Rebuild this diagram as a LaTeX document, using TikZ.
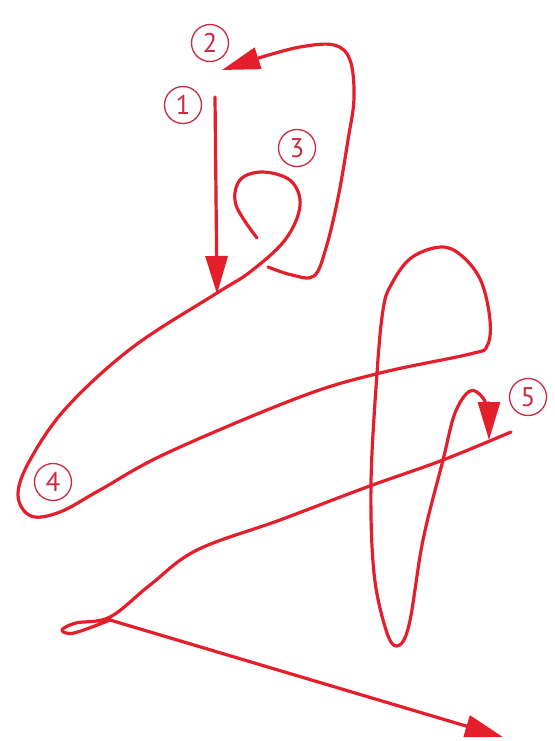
\documentclass[tikz,border=0pt]{standalone}
\usepackage{fontspec}
\setsansfont{PT Sans}
\usetikzlibrary{arrows.meta}
\definecolor{inkred}{RGB}{228,30,42}
\definecolor{numred}{RGB}{204,40,62}

\begin{document}
\begin{tikzpicture}[x=1pt, y=-1pt,
    stroke/.style={inkred, line width=3.2pt, line cap=round, line join=round},
    tip/.style={-{Triangle[length=38pt,width=22pt]}},
    num/.style={circle, draw=numred, line width=1.3pt, text=numred, minimum size=37pt,
        inner sep=0pt, font=\sffamily\fontsize{27}{27}\selectfont}]
    \useasboundingbox (0,0) rectangle (554,741);
    % stroke 1
    \draw[stroke, tip] (215,97) -- (217,294);
    % stroke 2
    \draw[stroke, tip] plot[smooth, tension=0.6] coordinates {(268,267) (292,275) (314,276) (326,248)
        (338,198) (348,140) (354,98) (350,60) (334,45) (300,47) (262,57)} -- (222,70);
    % stroke 3 to 5
    \draw[stroke, tip] plot[smooth, tension=0.6] coordinates {(257,238) (236,205) (240,180) (263,172)
        (291,181) (300,206) (285,240) (250,272) (217,293) (133,347) (67,407) (30,460) (18,495)
        (31,516) (60,512) (100,490) (167,453) (300,397) (380,373) (470,354) (487,346) (490,320)
        (481,281) (462,256) (441,247) (411,258) (391,285) (383,310) (377,373) (371,483) (374,573)
        (386,630) (397,646) (409,625) (423,540) (443,460) (455,413) (470,391) (483,398) (489,415)}
        -- (489,440);
    % last stroke
    \draw[stroke, tip] plot[smooth, tension=0.6] coordinates {(511,432) (443,460) (367,487) (280,520)
        (197,550) (150,585) (110,617) (76,623) (62,630) (74,633) (110,620)} -- (503,737);
    % numbers
    \node[num] (lab1) at (183,105) {1};
    \node[num] (lab2) at (210,43) {2};
    \node[num] (lab3) at (297,148) {3};
    \node[num] (lab4) at (53,482) {4};
    \node[num] (lab5) at (528,397) {5};
\end{tikzpicture}
\end{document}
